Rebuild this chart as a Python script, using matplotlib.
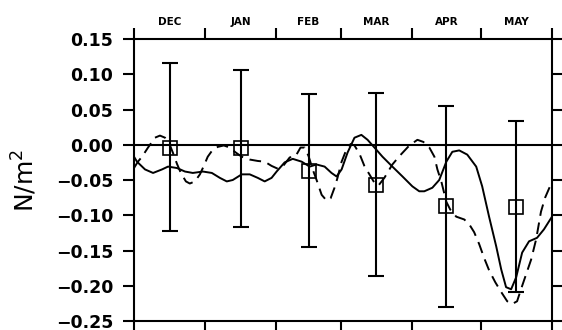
import matplotlib
matplotlib.use("Agg")
import matplotlib.pyplot as plt

# ---- data ----
months = ["DEC", "JAN", "FEB", "MAR", "APR", "MAY"]
month_bounds = [0, 31, 62, 90, 121, 151, 182]
month_centers = [15.5, 46.5, 76, 105.5, 136, 166.5]

yticks = [-0.25, -0.20, -0.15, -0.10, -0.05, 0.00, 0.05, 0.10, 0.15]
ytick_labels = ["\u22120.25", "\u22120.20", "\u22120.15", "\u22120.10", "\u22120.05",
                "0.00", "0.05", "0.10", "0.15"]

# monthly means with error ranges
obs_mean = [-0.004, -0.005, -0.037, -0.057, -0.087, -0.088]
obs_upper = [0.116, 0.106, 0.072, 0.073, 0.055, 0.033]
obs_lower = [-0.122, -0.116, -0.145, -0.186, -0.230, -0.209]

# solid curve (day since Dec 1, value)
solid_day = [0.0, 1.3, 4.8, 8.3, 12.2, 14.8, 18.7, 22.2, 25.6, 30.0, 33.9, 37.4,
             40.4, 43.0, 46.9, 50.4, 53.9, 56.9, 59.9, 62.1, 65.6, 69.1, 73.0,
             76.5, 79.5, 83.0, 86.0, 88.2, 90.4, 93.0, 96.0, 99.0, 101.7, 104.7,
             108.2, 112.5, 116.9, 121.2, 124.2, 126.4, 129.9, 132.9, 136.0, 138.6,
             141.6, 145.1, 149.0, 151.6, 154.6, 157.7, 159.9, 162.0, 164.2, 166.4,
             169.0, 172.0, 175.5, 178.5, 182.0]
solid_val = [-0.017, -0.024, -0.035, -0.040, -0.035, -0.031, -0.033, -0.038, -0.040,
             -0.038, -0.040, -0.047, -0.052, -0.050, -0.042, -0.042, -0.047, -0.052,
             -0.047, -0.038, -0.025, -0.020, -0.024, -0.031, -0.028, -0.031, -0.040,
             -0.045, -0.035, -0.011, 0.010, 0.014, 0.007, -0.004, -0.017, -0.031,
             -0.045, -0.059, -0.066, -0.066, -0.061, -0.050, -0.024, -0.010, -0.008,
             -0.014, -0.031, -0.059, -0.102, -0.144, -0.177, -0.202, -0.205, -0.188,
             -0.153, -0.137, -0.132, -0.120, -0.102]

# dashed curve
dash_day = [0.0, 1.7, 3.5, 6.1, 9.1, 11.3, 13.5, 15.2, 16.9, 18.7, 20.4, 22.6, 24.3,
            26.5, 28.7, 30.4, 32.1, 34.3, 36.5, 39.1, 41.7, 44.3, 46.9, 50.4, 53.9,
            56.9, 59.9, 62.6, 64.7, 67.8, 70.4, 72.5, 74.3, 76.0, 77.8, 79.5, 81.7,
            83.8, 85.6, 87.3, 88.6, 90.4, 92.1, 94.3, 96.0, 98.2, 100.3, 102.5, 104.7,
            106.4, 109.0, 112.5, 115.6, 119.9, 123.4, 126.0, 128.6, 130.8, 132.1,
            133.8, 136.0, 137.7, 140.3, 143.8, 146.0, 148.1, 150.3, 152.5, 154.6,
            157.3, 159.9, 162.5, 164.6, 166.8, 168.5, 170.7, 172.9, 175.1, 177.2,
            179.0, 181.0]
dash_val = [-0.033, -0.024, -0.017, -0.004, 0.010, 0.013, 0.010, 0.003, -0.011, -0.027,
            -0.040, -0.052, -0.055, -0.052, -0.042, -0.030, -0.017, -0.007, -0.003,
            -0.001, -0.004, -0.011, -0.017, -0.021, -0.023, -0.024, -0.030, -0.034,
            -0.031, -0.018, -0.016, -0.004, -0.004, -0.016, -0.035, -0.050, -0.071,
            -0.079, -0.076, -0.061, -0.047, -0.024, -0.010, 0.001, -0.001, -0.013,
            -0.030, -0.042, -0.054, -0.058, -0.047, -0.028, -0.016, -0.001, 0.007,
            0.004, -0.004, -0.017, -0.035, -0.052, -0.081, -0.092, -0.102, -0.106,
            -0.113, -0.124, -0.141, -0.161, -0.178, -0.195, -0.209, -0.222, -0.226,
            -0.222, -0.205, -0.184, -0.163, -0.134, -0.095, -0.075, -0.060]

# ---- plot ----
fig = plt.figure(figsize=(5.62, 3.30), dpi=100)
ax = fig.add_axes([134 / 562, 1 - 321 / 330, 418 / 562, (321 - 39) / 330])

ax.axhline(0, color="black", lw=1.5, zorder=1)
ax.plot(solid_day, solid_val, color="black", lw=1.4, zorder=3,
        solid_joinstyle="round")
ax.plot(dash_day, dash_val, color="black", lw=1.4, dashes=(6, 3.5), zorder=3)

err_lo = [m - l for m, l in zip(obs_mean, obs_lower)]
err_hi = [u - m for m, u in zip(obs_mean, obs_upper)]
ax.errorbar(month_centers, obs_mean, yerr=[err_lo, err_hi], fmt="none",
            ecolor="black", elinewidth=1.5, capsize=5.8, capthick=1.5, zorder=4)
ax.plot(month_centers, obs_mean, ls="none", marker="s", markersize=10.4,
        markerfacecolor="none", markeredgecolor="black", markeredgewidth=1.2, zorder=5)

ax.set_xlim(month_bounds[0], month_bounds[-1])
ax.set_ylim(-0.25, 0.15)

ax.set_yticks(yticks)
ax.set_yticklabels(ytick_labels, fontsize=12.5, fontweight="bold")
ax.tick_params(axis="y", which="major", direction="out", length=8, width=1.5,
               left=True, right=True, labelleft=True, labelright=False, pad=7)

ax.set_xticks(month_bounds)
ax.set_xticklabels([])
ax.set_xticks(month_centers, minor=True)
ax.set_xticklabels(months, minor=True, fontsize=7.5, fontweight="bold")
ax.tick_params(axis="x", which="major", direction="out", length=8, width=1.5,
               top=True, bottom=True, labelbottom=False, labeltop=False)
ax.tick_params(axis="x", which="minor", length=0, top=False, bottom=False,
               labelbottom=False, labeltop=True, pad=9)

for s in ax.spines.values():
    s.set_linewidth(1.5)

ax.set_ylabel("N/m$^2$", fontsize=18)
ax.yaxis.set_label_coords(-0.228, 0.5)

fig.savefig("out.png", dpi=100)
